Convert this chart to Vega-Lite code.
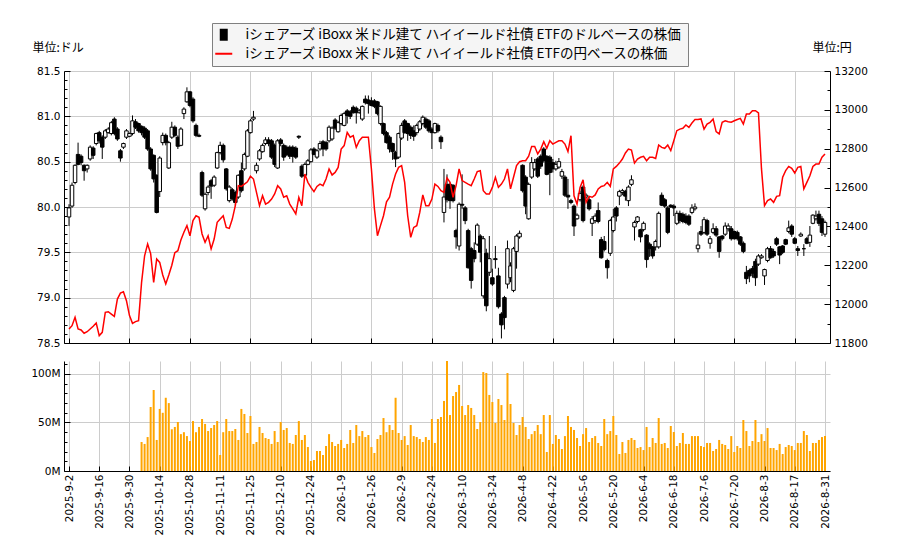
{
  "$schema": "https://vega.github.io/schema/vega-lite/v6.json",
  "background": "white",
  "padding": {"left": 30, "top": 22, "right": 0, "bottom": 0},
  "bounds": "flush",
  "spacing": 18,
  "datasets": {
    "px": [
      {"i":0,"o":79.89,"h":80.03,"l":79.79,"c":79.99,"y":11872},
      {"i":1,"o":80.01,"h":80.27,"l":79.99,"c":80.24,"y":11889},
      {"i":2,"o":80.27,"h":80.47,"l":80.25,"c":80.46,"y":11932},
      {"i":3,"o":80.58,"h":80.71,"l":80.46,"c":80.47,"y":11872},
      {"i":4,"o":80.56,"h":80.58,"l":80.46,"c":80.49,"y":11867},
      {"i":5,"o":80.46,"h":80.47,"l":80.29,"c":80.40,"y":11850},
      {"i":6,"o":80.42,"h":80.47,"l":80.38,"c":80.46,"y":11858},
      {"i":7,"o":80.53,"h":80.68,"l":80.51,"c":80.66,"y":11872},
      {"i":8,"o":80.65,"h":80.67,"l":80.53,"c":80.57,"y":11886},
      {"i":9,"o":80.70,"h":80.82,"l":80.68,"c":80.81,"y":11903},
      {"i":10,"o":80.82,"h":80.84,"l":80.70,"c":80.73,"y":11838},
      {"i":11,"o":80.77,"h":80.79,"l":80.53,"c":80.66,"y":11855},
      {"i":12,"o":80.77,"h":80.86,"l":80.75,"c":80.84,"y":11958},
      {"i":13,"o":80.82,"h":80.88,"l":80.81,"c":80.86,"y":11961},
      {"i":14,"o":80.81,"h":80.95,"l":80.79,"c":80.93,"y":11949},
      {"i":15,"o":80.97,"h":80.99,"l":80.79,"c":80.81,"y":11937},
      {"i":16,"o":80.86,"h":80.88,"l":80.73,"c":80.75,"y":12026},
      {"i":17,"o":80.62,"h":80.64,"l":80.50,"c":80.54,"y":12057},
      {"i":18,"o":80.66,"h":80.71,"l":80.64,"c":80.70,"y":12064},
      {"i":19,"o":80.77,"h":80.86,"l":80.75,"c":80.84,"y":12018},
      {"i":20,"o":80.78,"h":80.82,"l":80.77,"c":80.81,"y":11941},
      {"i":21,"o":80.81,"h":81.01,"l":80.79,"c":80.95,"y":11901},
      {"i":22,"o":80.94,"h":80.97,"l":80.86,"c":80.88,"y":11910},
      {"i":23,"o":80.92,"h":80.93,"l":80.82,"c":80.84,"y":11915},
      {"i":24,"o":80.89,"h":80.90,"l":80.79,"c":80.82,"y":12112,"v":29.9},
      {"i":25,"o":80.87,"h":80.89,"l":80.75,"c":80.77,"y":12249,"v":27.9},
      {"i":26,"o":80.84,"h":80.86,"l":80.62,"c":80.64,"y":12310,"v":35},
      {"i":27,"o":80.64,"h":80.66,"l":80.40,"c":80.42,"y":12260,"v":66},
      {"i":28,"o":80.57,"h":80.58,"l":80.27,"c":80.31,"y":12112,"v":83.5},
      {"i":29,"o":80.35,"h":80.36,"l":79.93,"c":79.94,"y":12232,"v":32},
      {"i":30,"o":80.17,"h":80.56,"l":80.11,"c":80.54,"y":12215,"v":64},
      {"i":31,"o":80.71,"h":80.82,"l":80.68,"c":80.79,"y":12150,"v":60},
      {"i":32,"o":80.79,"h":80.81,"l":80.68,"c":80.71,"y":12104,"v":75.5},
      {"i":33,"o":80.43,"h":80.73,"l":80.42,"c":80.71,"y":12150,"v":70},
      {"i":34,"o":80.77,"h":80.94,"l":80.75,"c":80.88,"y":12200,"v":43},
      {"i":35,"o":80.88,"h":80.90,"l":80.77,"c":80.79,"y":12265,"v":45.4},
      {"i":36,"o":80.77,"h":80.79,"l":80.64,"c":80.67,"y":12275,"v":50.5},
      {"i":37,"o":80.68,"h":80.88,"l":80.67,"c":80.86,"y":12330,"v":38},
      {"i":38,"o":81.03,"h":81.10,"l":80.97,"c":81.08,"y":12370,"v":40},
      {"i":39,"o":81.16,"h":81.32,"l":81.15,"c":81.27,"y":12404,"v":36},
      {"i":40,"o":81.27,"h":81.28,"l":81.10,"c":81.12,"y":12352,"v":30.9},
      {"i":41,"o":81.19,"h":81.21,"l":80.93,"c":80.95,"y":12430,"v":51.5},
      {"i":42,"o":80.90,"h":80.92,"l":80.77,"c":80.79,"y":12455,"v":40},
      {"i":43,"o":80.79,"h":80.81,"l":80.77,"c":80.78,"y":12447,"v":45.4},
      {"i":44,"o":80.38,"h":80.40,"l":80.11,"c":80.13,"y":12361,"v":53.6},
      {"i":45,"o":79.98,"h":80.16,"l":79.96,"c":80.14,"y":12318,"v":48.5},
      {"i":46,"o":80.16,"h":80.24,"l":80.13,"c":80.22,"y":12352,"v":41.2},
      {"i":47,"o":80.29,"h":80.31,"l":80.09,"c":80.23,"y":12284,"v":44.3},
      {"i":48,"o":80.24,"h":80.35,"l":80.22,"c":80.33,"y":12335,"v":47.4},
      {"i":49,"o":80.43,"h":80.61,"l":80.42,"c":80.60,"y":12421,"v":51.5},
      {"i":50,"o":80.60,"h":80.72,"l":80.58,"c":80.68,"y":12438,"v":16.5},
      {"i":51,"o":80.68,"h":80.70,"l":80.49,"c":80.52,"y":12455,"v":40},
      {"i":52,"o":80.42,"h":80.43,"l":80.18,"c":80.20,"y":12395,"v":53.6},
      {"i":53,"o":80.07,"h":80.24,"l":80.05,"c":80.22,"y":12390,"v":41.2},
      {"i":54,"o":80.19,"h":80.21,"l":80.07,"c":80.09,"y":12438,"v":41.2},
      {"i":55,"o":80.16,"h":80.18,"l":80.01,"c":80.05,"y":12507,"v":43.3},
      {"i":56,"o":80.11,"h":80.36,"l":80.09,"c":80.35,"y":12610,"v":32},
      {"i":57,"o":80.40,"h":80.49,"l":80.16,"c":80.18,"y":12606,"v":64},
      {"i":58,"o":80.42,"h":80.60,"l":80.40,"c":80.58,"y":12618,"v":58.8},
      {"i":59,"o":80.56,"h":80.86,"l":80.55,"c":80.84,"y":12630,"v":39.2},
      {"i":60,"o":80.82,"h":80.97,"l":80.81,"c":80.95,"y":12658,"v":56.7},
      {"i":61,"o":80.97,"h":81.06,"l":80.95,"c":80.99,"y":12644,"v":27.9},
      {"i":62,"o":80.40,"h":80.49,"l":80.37,"c":80.46,"y":12575,"v":29.9},
      {"i":63,"o":80.53,"h":80.64,"l":80.51,"c":80.62,"y":12507,"v":45.4},
      {"i":64,"o":80.61,"h":80.70,"l":80.60,"c":80.68,"y":12558,"v":39.2},
      {"i":65,"o":80.70,"h":80.77,"l":80.68,"c":80.74,"y":12515,"v":34},
      {"i":66,"o":80.74,"h":80.77,"l":80.67,"c":80.70,"y":12524,"v":33},
      {"i":67,"o":80.73,"h":80.75,"l":80.53,"c":80.55,"y":12541,"v":27.9},
      {"i":68,"o":80.68,"h":80.70,"l":80.44,"c":80.47,"y":12567,"v":41.2},
      {"i":69,"o":80.43,"h":80.75,"l":80.42,"c":80.73,"y":12610,"v":29.9},
      {"i":70,"o":80.74,"h":80.76,"l":80.67,"c":80.70,"y":12593,"v":50.5},
      {"i":71,"o":80.68,"h":80.70,"l":80.51,"c":80.55,"y":12550,"v":42.3},
      {"i":72,"o":80.66,"h":80.68,"l":80.56,"c":80.58,"y":12558,"v":44.3},
      {"i":73,"o":80.66,"h":80.68,"l":80.53,"c":80.56,"y":12515,"v":28.9},
      {"i":74,"o":80.66,"h":80.68,"l":80.49,"c":80.56,"y":12490,"v":27.9},
      {"i":75,"o":80.65,"h":80.67,"l":80.53,"c":80.55,"y":12464,"v":37.1},
      {"i":76,"o":80.78,"h":80.79,"l":80.75,"c":80.77,"y":12550,"v":51.5},
      {"i":77,"o":80.45,"h":80.47,"l":80.32,"c":80.34,"y":12507,"v":32},
      {"i":78,"o":80.35,"h":80.49,"l":80.34,"c":80.47,"y":12670,"v":37.1},
      {"i":79,"o":80.47,"h":80.53,"l":80.46,"c":80.51,"y":12627,"v":24.7},
      {"i":80,"o":80.50,"h":80.65,"l":80.49,"c":80.63,"y":12601,"v":10.3},
      {"i":81,"o":80.64,"h":80.66,"l":80.57,"c":80.58,"y":12579,"v":11.3},
      {"i":82,"o":80.55,"h":80.64,"l":80.53,"c":80.62,"y":12606,"v":20.6},
      {"i":83,"o":80.64,"h":80.73,"l":80.62,"c":80.70,"y":12618,"v":20.6},
      {"i":84,"o":80.72,"h":80.74,"l":80.56,"c":80.64,"y":12610,"v":16.5},
      {"i":85,"o":80.71,"h":80.73,"l":80.62,"c":80.64,"y":12644,"v":25.8},
      {"i":86,"o":80.73,"h":80.90,"l":80.71,"c":80.88,"y":12696,"v":38},
      {"i":87,"o":80.75,"h":80.89,"l":80.73,"c":80.87,"y":12665,"v":29.9},
      {"i":88,"o":80.96,"h":80.98,"l":80.85,"c":80.87,"y":12678,"v":25.8},
      {"i":89,"o":80.83,"h":80.95,"l":80.82,"c":80.93,"y":12704,"v":27.9},
      {"i":90,"o":80.92,"h":81.03,"l":80.90,"c":81.01,"y":12798,"v":32},
      {"i":91,"o":80.90,"h":81.05,"l":80.89,"c":81.03,"y":12816,"v":23.7},
      {"i":92,"o":81.06,"h":81.08,"l":80.92,"c":81.01,"y":12884,"v":27.9},
      {"i":93,"o":81.05,"h":81.07,"l":80.97,"c":81.00,"y":12859,"v":42.3},
      {"i":94,"o":81.10,"h":81.12,"l":81.03,"c":81.04,"y":12867,"v":28.9},
      {"i":95,"o":81.09,"h":81.11,"l":80.92,"c":81.04,"y":12807,"v":47.4},
      {"i":96,"o":81.04,"h":81.08,"l":81.03,"c":81.06,"y":12841,"v":36},
      {"i":97,"o":80.97,"h":81.12,"l":80.95,"c":81.11,"y":12859,"v":41.2},
      {"i":98,"o":81.19,"h":81.23,"l":81.13,"c":81.15,"y":12859,"v":35},
      {"i":99,"o":81.18,"h":81.23,"l":81.03,"c":81.14,"y":12859,"v":37.1},
      {"i":100,"o":81.17,"h":81.21,"l":81.11,"c":81.12,"y":12696,"v":24.7},
      {"i":101,"o":81.17,"h":81.19,"l":81.09,"c":81.11,"y":12490,"v":18.6},
      {"i":102,"o":81.16,"h":81.17,"l":81.01,"c":81.03,"y":12352,"v":33},
      {"i":103,"o":80.92,"h":81.12,"l":80.90,"c":81.11,"y":12404,"v":37.1},
      {"i":104,"o":80.92,"h":80.93,"l":80.79,"c":80.81,"y":12455,"v":54.6},
      {"i":105,"o":80.82,"h":80.84,"l":80.70,"c":80.71,"y":12527,"v":40},
      {"i":106,"o":80.77,"h":80.79,"l":80.60,"c":80.64,"y":12550,"v":47.4},
      {"i":107,"o":80.70,"h":80.71,"l":80.52,"c":80.61,"y":12618,"v":42.3},
      {"i":108,"o":80.60,"h":80.62,"l":80.44,"c":80.53,"y":12670,"v":75.5},
      {"i":109,"o":80.55,"h":80.82,"l":80.53,"c":80.81,"y":12704,"v":39.2},
      {"i":110,"o":80.76,"h":80.93,"l":80.74,"c":80.90,"y":12713,"v":32},
      {"i":111,"o":80.95,"h":80.97,"l":80.81,"c":80.82,"y":12627,"v":36},
      {"i":112,"o":80.92,"h":80.93,"l":80.73,"c":80.81,"y":12455,"v":26.8},
      {"i":113,"o":80.88,"h":80.90,"l":80.75,"c":80.79,"y":12344,"v":47.4},
      {"i":114,"o":80.84,"h":80.90,"l":80.73,"c":80.78,"y":12395,"v":36},
      {"i":115,"o":80.82,"h":80.92,"l":80.79,"c":80.90,"y":12404,"v":35},
      {"i":116,"o":80.86,"h":80.96,"l":80.84,"c":80.94,"y":12473,"v":33},
      {"i":117,"o":80.92,"h":81.01,"l":80.90,"c":80.99,"y":12562,"v":29.9},
      {"i":118,"o":80.97,"h":80.99,"l":80.86,"c":80.88,"y":12507,"v":35},
      {"i":119,"o":80.95,"h":80.97,"l":80.82,"c":80.84,"y":12507,"v":32},
      {"i":120,"o":80.86,"h":80.88,"l":80.64,"c":80.82,"y":12541,"v":53.6},
      {"i":121,"o":80.82,"h":80.93,"l":80.81,"c":80.92,"y":12618,"v":28.9},
      {"i":122,"o":80.90,"h":80.92,"l":80.82,"c":80.84,"y":12606,"v":53.6},
      {"i":123,"o":80.77,"h":80.79,"l":80.64,"c":80.72,"y":12584,"v":55.7},
      {"i":124,"o":79.94,"h":80.42,"l":79.83,"c":80.11,"y":12575,"v":72.2},
      {"i":125,"o":80.25,"h":80.36,"l":80.05,"c":80.08,"y":12650,"v":113.4},
      {"i":126,"o":80.25,"h":80.27,"l":79.98,"c":80.07,"y":12627,"v":57.7},
      {"i":127,"o":80.24,"h":80.25,"l":80.05,"c":80.07,"y":12550,"v":77.3},
      {"i":128,"o":79.74,"h":79.76,"l":79.54,"c":79.67,"y":12610,"v":81.4},
      {"i":129,"o":79.57,"h":80.05,"l":79.52,"c":80.03,"y":12696,"v":88.7},
      {"i":130,"o":80.03,"h":80.36,"l":79.98,"c":80.02,"y":12636,"v":67},
      {"i":131,"o":79.99,"h":80.01,"l":79.81,"c":79.85,"y":12627,"v":57.7},
      {"i":132,"o":79.74,"h":79.76,"l":79.32,"c":79.33,"y":12618,"v":68},
      {"i":133,"o":79.54,"h":79.56,"l":79.10,"c":79.19,"y":12610,"v":65},
      {"i":134,"o":79.52,"h":79.61,"l":79.39,"c":79.43,"y":12644,"v":57.7},
      {"i":135,"o":79.59,"h":79.82,"l":79.57,"c":79.80,"y":12682,"v":43.3},
      {"i":136,"o":79.68,"h":79.70,"l":79.39,"c":79.50,"y":12687,"v":50.5},
      {"i":137,"o":79.02,"h":79.68,"l":78.99,"c":79.65,"y":12584,"v":102},
      {"i":138,"o":79.49,"h":79.54,"l":78.85,"c":78.91,"y":12567,"v":101},
      {"i":139,"o":79.28,"h":79.68,"l":79.24,"c":79.43,"y":12567,"v":78.4},
      {"i":140,"o":79.22,"h":79.32,"l":79.13,"c":79.15,"y":12601,"v":71.1},
      {"i":141,"o":79.43,"h":79.57,"l":79.32,"c":79.42,"y":12653,"v":49.5},
      {"i":142,"o":79.24,"h":79.33,"l":78.88,"c":78.90,"y":12601,"v":74.2},
      {"i":143,"o":78.82,"h":78.84,"l":78.55,"c":78.70,"y":12618,"v":68},
      {"i":144,"o":79.00,"h":79.02,"l":78.65,"c":78.78,"y":12644,"v":52.6},
      {"i":145,"o":79.15,"h":79.63,"l":79.10,"c":79.54,"y":12696,"v":101},
      {"i":146,"o":79.22,"h":79.39,"l":79.17,"c":79.35,"y":12593,"v":69.1},
      {"i":147,"o":79.08,"h":79.56,"l":79.06,"c":79.54,"y":12653,"v":49.5},
      {"i":148,"o":79.51,"h":79.70,"l":79.32,"c":79.68,"y":12713,"v":37.1},
      {"i":149,"o":79.67,"h":79.74,"l":79.65,"c":79.71,"y":12733,"v":47.4},
      {"i":150,"o":80.46,"h":80.47,"l":80.16,"c":80.18,"y":12738,"v":55.7},
      {"i":151,"o":80.33,"h":80.35,"l":79.92,"c":80.01,"y":12738,"v":45.4},
      {"i":152,"o":79.87,"h":80.27,"l":79.86,"c":80.25,"y":12761,"v":33},
      {"i":153,"o":80.33,"h":80.55,"l":80.31,"c":80.49,"y":12812,"v":38},
      {"i":154,"o":80.42,"h":80.53,"l":80.40,"c":80.49,"y":12812,"v":41.2},
      {"i":155,"o":80.53,"h":80.55,"l":80.32,"c":80.34,"y":12773,"v":47.4},
      {"i":156,"o":80.56,"h":80.58,"l":80.42,"c":80.45,"y":12798,"v":38},
      {"i":157,"o":80.64,"h":80.66,"l":80.49,"c":80.51,"y":12836,"v":57.7},
      {"i":158,"o":80.56,"h":80.57,"l":80.35,"c":80.36,"y":12802,"v":19.6},
      {"i":159,"o":80.55,"h":80.57,"l":80.13,"c":80.38,"y":12841,"v":57.7},
      {"i":160,"o":80.49,"h":80.53,"l":80.38,"c":80.42,"y":12824,"v":27.9},
      {"i":161,"o":80.42,"h":80.51,"l":80.40,"c":80.47,"y":12833,"v":37.1},
      {"i":162,"o":80.44,"h":80.54,"l":80.42,"c":80.50,"y":12841,"v":33},
      {"i":163,"o":80.34,"h":80.42,"l":80.31,"c":80.39,"y":12841,"v":22.7},
      {"i":164,"o":80.33,"h":80.35,"l":80.11,"c":80.13,"y":12824,"v":36},
      {"i":165,"o":80.13,"h":80.31,"l":79.98,"c":80.11,"y":12785,"v":56.7},
      {"i":166,"o":80.07,"h":80.09,"l":80.03,"c":80.05,"y":12867,"v":45.4},
      {"i":167,"o":80.01,"h":80.03,"l":79.68,"c":79.79,"y":12558,"v":42.3},
      {"i":168,"o":79.87,"h":79.93,"l":79.86,"c":79.91,"y":12515,"v":34},
      {"i":169,"o":80.08,"h":80.18,"l":80.06,"c":80.15,"y":12600,"v":25.8},
      {"i":170,"o":80.22,"h":80.24,"l":79.83,"c":79.85,"y":12640,"v":38},
      {"i":171,"o":80.11,"h":80.15,"l":80.09,"c":80.13,"y":12524,"v":44.3},
      {"i":172,"o":80.08,"h":80.11,"l":79.96,"c":79.98,"y":12555,"v":29.9},
      {"i":173,"o":79.82,"h":79.90,"l":79.68,"c":79.87,"y":12550,"v":34},
      {"i":174,"o":79.85,"h":79.93,"l":79.82,"c":79.90,"y":12562,"v":36},
      {"i":175,"o":79.96,"h":80.05,"l":79.82,"c":79.84,"y":12593,"v":28.9},
      {"i":176,"o":79.64,"h":79.67,"l":79.43,"c":79.44,"y":12606,"v":25.8},
      {"i":177,"o":79.62,"h":79.68,"l":79.51,"c":79.53,"y":12610,"v":53.6},
      {"i":178,"o":79.41,"h":79.43,"l":79.21,"c":79.33,"y":12627,"v":38},
      {"i":179,"o":79.49,"h":79.87,"l":79.46,"c":79.85,"y":12606,"v":41.2},
      {"i":180,"o":79.74,"h":79.98,"l":79.72,"c":79.89,"y":12696,"v":56.7},
      {"i":181,"o":79.99,"h":80.01,"l":79.84,"c":79.90,"y":12709,"v":37.1},
      {"i":182,"o":80.12,"h":80.19,"l":80.02,"c":80.17,"y":12726,"v":17.5},
      {"i":183,"o":80.16,"h":80.20,"l":80.13,"c":80.18,"y":12747,"v":29.9},
      {"i":184,"o":80.17,"h":80.19,"l":80.07,"c":80.12,"y":12778,"v":18.6},
      {"i":185,"o":80.07,"h":80.24,"l":80.01,"c":80.22,"y":12798,"v":32},
      {"i":186,"o":80.25,"h":80.35,"l":80.23,"c":80.30,"y":12793,"v":34},
      {"i":187,"o":79.78,"h":79.85,"l":79.63,"c":79.83,"y":12726,"v":32},
      {"i":188,"o":79.84,"h":79.90,"l":79.82,"c":79.89,"y":12747,"v":23.7},
      {"i":189,"o":79.75,"h":79.76,"l":79.61,"c":79.67,"y":12756,"v":24.7},
      {"i":190,"o":79.75,"h":79.84,"l":79.73,"c":79.82,"y":12761,"v":21.6},
      {"i":191,"o":79.69,"h":79.70,"l":79.33,"c":79.42,"y":12738,"v":45.4},
      {"i":192,"o":79.59,"h":79.61,"l":79.45,"c":79.54,"y":12756,"v":24.7},
      {"i":193,"o":79.56,"h":79.57,"l":79.43,"c":79.46,"y":12756,"v":34},
      {"i":194,"o":79.56,"h":79.64,"l":79.52,"c":79.62,"y":12750,"v":28.9},
      {"i":195,"o":79.56,"h":79.95,"l":79.54,"c":79.93,"y":12819,"v":54.6},
      {"i":196,"o":80.13,"h":80.16,"l":80.01,"c":80.02,"y":12807,"v":27.9},
      {"i":197,"o":80.08,"h":80.10,"l":79.99,"c":80.01,"y":12802,"v":28.9},
      {"i":198,"o":79.99,"h":80.01,"l":79.70,"c":79.72,"y":12819,"v":23.7},
      {"i":199,"o":80.02,"h":80.03,"l":79.99,"c":80.00,"y":12790,"v":46.4},
      {"i":200,"o":80.01,"h":80.03,"l":79.90,"c":79.99,"y":12841,"v":40.2},
      {"i":201,"o":79.82,"h":79.96,"l":79.80,"c":79.93,"y":12893,"v":25.8},
      {"i":202,"o":79.93,"h":79.96,"l":79.82,"c":79.85,"y":12901,"v":28.9},
      {"i":203,"o":79.92,"h":79.94,"l":79.82,"c":79.84,"y":12905,"v":39.2},
      {"i":204,"o":79.90,"h":79.93,"l":79.81,"c":79.83,"y":12922,"v":27.9},
      {"i":205,"o":79.90,"h":79.92,"l":79.79,"c":79.81,"y":12910,"v":27.9},
      {"i":206,"o":79.94,"h":80.03,"l":79.92,"c":79.99,"y":12932,"v":36},
      {"i":207,"o":79.98,"h":80.04,"l":79.96,"c":80.00,"y":12950,"v":36},
      {"i":208,"o":79.54,"h":79.72,"l":79.50,"c":79.58,"y":12950,"v":36},
      {"i":209,"o":79.73,"h":79.79,"l":79.68,"c":79.70,"y":12953,"v":25.8},
      {"i":210,"o":79.72,"h":79.89,"l":79.70,"c":79.86,"y":12901,"v":24.7},
      {"i":211,"o":79.85,"h":79.87,"l":79.68,"c":79.70,"y":12927,"v":28.9},
      {"i":212,"o":79.60,"h":79.68,"l":79.54,"c":79.65,"y":12936,"v":28.9},
      {"i":213,"o":79.72,"h":79.82,"l":79.70,"c":79.76,"y":12953,"v":20.6},
      {"i":214,"o":79.76,"h":79.79,"l":79.67,"c":79.69,"y":12888,"v":22.7},
      {"i":215,"o":79.67,"h":79.68,"l":79.44,"c":79.51,"y":12876,"v":32},
      {"i":216,"o":79.68,"h":79.69,"l":79.63,"c":79.65,"y":12936,"v":27.9},
      {"i":217,"o":79.70,"h":79.83,"l":79.68,"c":79.79,"y":12944,"v":26.8},
      {"i":218,"o":79.76,"h":79.82,"l":79.73,"c":79.79,"y":12939,"v":22.7},
      {"i":219,"o":79.76,"h":79.79,"l":79.63,"c":79.65,"y":12936,"v":36},
      {"i":220,"o":79.73,"h":79.74,"l":79.64,"c":79.65,"y":12944,"v":19.6},
      {"i":221,"o":79.72,"h":79.74,"l":79.63,"c":79.65,"y":12950,"v":25.8},
      {"i":222,"o":79.67,"h":79.68,"l":79.57,"c":79.59,"y":12956,"v":23.7},
      {"i":223,"o":79.60,"h":79.62,"l":79.49,"c":79.51,"y":12927,"v":52.6},
      {"i":224,"o":79.28,"h":79.35,"l":79.15,"c":79.21,"y":12979,"v":41.2},
      {"i":225,"o":79.30,"h":79.32,"l":79.17,"c":79.24,"y":12979,"v":25.8},
      {"i":226,"o":79.32,"h":79.35,"l":79.22,"c":79.27,"y":12996,"v":30.9},
      {"i":227,"o":79.40,"h":79.43,"l":79.13,"c":79.22,"y":12996,"v":52.6},
      {"i":228,"o":79.37,"h":79.48,"l":79.35,"c":79.46,"y":12984,"v":29.9},
      {"i":229,"o":79.44,"h":79.48,"l":79.43,"c":79.46,"y":12696,"v":38},
      {"i":230,"o":79.24,"h":79.32,"l":79.14,"c":79.31,"y":12507,"v":30.9},
      {"i":231,"o":79.41,"h":79.56,"l":79.39,"c":79.54,"y":12533,"v":44.3},
      {"i":232,"o":79.54,"h":79.57,"l":79.43,"c":79.44,"y":12541,"v":23.7},
      {"i":233,"o":79.51,"h":79.54,"l":79.44,"c":79.46,"y":12524,"v":23.7},
      {"i":234,"o":79.65,"h":79.67,"l":79.57,"c":79.59,"y":12555,"v":21.6},
      {"i":235,"o":79.56,"h":79.57,"l":79.37,"c":79.47,"y":12558,"v":27.9},
      {"i":236,"o":79.57,"h":79.58,"l":79.48,"c":79.50,"y":12653,"v":17.5},
      {"i":237,"o":79.64,"h":79.65,"l":79.58,"c":79.59,"y":12687,"v":24.7},
      {"i":238,"o":79.73,"h":79.85,"l":79.71,"c":79.77,"y":12709,"v":26.8},
      {"i":239,"o":79.79,"h":79.81,"l":79.67,"c":79.70,"y":12699,"v":25.8},
      {"i":240,"o":79.65,"h":79.67,"l":79.59,"c":79.60,"y":12675,"v":21.6},
      {"i":241,"o":79.54,"h":79.57,"l":79.46,"c":79.52,"y":12704,"v":28.9},
      {"i":242,"o":79.68,"h":79.72,"l":79.67,"c":79.70,"y":12709,"v":28.9},
      {"i":243,"o":79.54,"h":79.59,"l":79.46,"c":79.54,"y":12593,"v":41.2},
      {"i":244,"o":79.65,"h":79.67,"l":79.59,"c":79.60,"y":12627,"v":37.1},
      {"i":245,"o":79.61,"h":79.79,"l":79.56,"c":79.69,"y":12661,"v":20.6},
      {"i":246,"o":79.82,"h":79.92,"l":79.81,"c":79.91,"y":12709,"v":28.9},
      {"i":247,"o":79.87,"h":79.96,"l":79.85,"c":79.90,"y":12721,"v":28.9},
      {"i":248,"o":79.92,"h":79.96,"l":79.79,"c":79.82,"y":12721,"v":32},
      {"i":249,"o":79.87,"h":79.90,"l":79.68,"c":79.72,"y":12756,"v":35},
      {"i":250,"o":79.70,"h":79.85,"l":79.67,"c":79.83,"y":12773,"v":36}
    ]
  },
  "vconcat": [
    {
      "width": 766,
      "height": 272,
      "data": {"name": "px"},
      "layer": [
        {
          "mark": {"type": "rule", "color": "black", "strokeWidth": 1},
          "encoding": {
            "x": {
              "field": "i", "type": "quantitative",
              "scale": {"domain": [0, 250], "nice": false, "zero": false},
              "axis": {"values": [0,10,20,30,40,50,60,70,80,90,100,110,120,130,140,150,160,170,180,190,200,210,220,230,240,250], "labels": false, "tickSize": -5, "grid": true, "title": null}
            },
            "y": {
              "field": "l", "type": "quantitative",
              "scale": {"domain": [78.5, 81.5], "nice": false, "zero": false},
              "axis": {
                "orient": "left",
                "values": [78.5,78.6,78.7,78.8,78.9,79.0,79.1,79.2,79.3,79.4,79.5,79.6,79.7,79.8,79.9,80.0,80.1,80.2,80.3,80.4,80.5,80.6,80.7,80.8,80.9,81.0,81.1,81.2,81.3,81.4,81.5],
                "labelExpr": "round(datum.value * 10) % 5 == 0 ? format(datum.value, '.1f') : ''",
                "labelOverlap": false,
                "tickSize": {"condition": {"test": "round(datum.value * 10) % 5 == 0", "value": -6}, "value": -3},
                "grid": true,
                "gridOpacity": {"condition": {"test": "round(datum.value * 10) % 5 == 0", "value": 1}, "value": 0},
                "labelPadding": 10,
                "title": "単位:ドル", "titleAngle": 0, "titleAlign": "left", "titleBaseline": "middle", "titleX": -32, "titleY": -24
              }
            },
            "y2": {"field": "h"}
          }
        },
        {
          "mark": {"type": "bar", "size": 3.5, "stroke": "black", "strokeWidth": 1},
          "encoding": {
            "x": {"field": "i", "type": "quantitative", "scale": {"domain": [0, 250], "nice": false, "zero": false}},
            "y": {"field": "o", "type": "quantitative", "scale": {"domain": [78.5, 81.5], "nice": false, "zero": false}, "axis": null},
            "y2": {"field": "c"},
            "fill": {"condition": {"test": "datum.c >= datum.o", "value": "white"}, "value": "black"}
          }
        },
        {
          "mark": {"type": "line", "color": "#ff0000", "strokeWidth": 1.5},
          "encoding": {
            "x": {"field": "i", "type": "quantitative", "scale": {"domain": [0, 250], "nice": false, "zero": false}},
            "y": {
              "field": "y", "type": "quantitative",
              "scale": {"domain": [11800, 13200], "nice": false, "zero": false},
              "axis": {
                "orient": "right",
                "values": [11800,11900,12000,12100,12200,12300,12400,12500,12600,12700,12800,12900,13000,13100,13200],
                "labelExpr": "datum.value % 200 == 0 ? '' + datum.value : ''",
                "labelOverlap": false,
                "tickSize": {"condition": {"test": "datum.value % 200 == 0", "value": -6}, "value": -3},
                "grid": false,
                "labelPadding": 10,
                "title": "単位:円", "titleAngle": 0, "titleAlign": "left", "titleBaseline": "middle", "titleX": -18, "titleY": -24
              }
            }
          }
        },
        {
          "data": {"values": [
            {"s": "iシェアーズ iBoxx 米ドル建て ハイイールド社債 ETFのドルベースの株価"},
            {"s": "iシェアーズ iBoxx 米ドル建て ハイイールド社債 ETFの円ベースの株価"}
          ]},
          "mark": {"type": "point", "filled": true, "opacity": 0},
          "encoding": {
            "shape": {
              "field": "s", "type": "nominal",
              "scale": {
                "domain": ["iシェアーズ iBoxx 米ドル建て ハイイールド社債 ETFのドルベースの株価", "iシェアーズ iBoxx 米ドル建て ハイイールド社債 ETFの円ベースの株価"],
                "range": ["M-0.8,-1.2H0.8V1.2H-0.8Z", "M-1.7,-0.2H1.7V0.2H-1.7Z"]
              },
              "legend": {"title": null, "orient": "none", "legendX": 148, "legendY": -48, "fillColor": "#f5f5f5", "strokeColor": "#808080", "padding": 5, "labelFont": "Noto Sans CJK JP", "labelFontSize": 13.5, "labelColor": "black", "labelLimit": 1000, "labelOffset": 15, "rowPadding": 2, "symbolSize": 100, "symbolOpacity": 1}
            },
            "color": {
              "field": "s", "type": "nominal",
              "scale": {
                "domain": ["iシェアーズ iBoxx 米ドル建て ハイイールド社債 ETFのドルベースの株価", "iシェアーズ iBoxx 米ドル建て ハイイールド社債 ETFの円ベースの株価"],
                "range": ["black", "#ff0000"]
              },
              "legend": {"title": null, "orient": "none", "legendX": 148, "legendY": -48, "fillColor": "#f5f5f5", "strokeColor": "#808080", "padding": 5, "labelFont": "Noto Sans CJK JP", "labelFontSize": 13.5, "labelColor": "black", "labelLimit": 1000, "labelOffset": 15, "rowPadding": 2, "symbolSize": 100, "symbolOpacity": 1}
            }
          }
        }
      ],
      "resolve": {"scale": {"y": "independent"}}
    },
    {
      "width": 766,
      "height": 110,
      "data": {"name": "px"},
      "mark": {"type": "bar", "color": "#ffa500", "size": 2},
      "encoding": {
        "x": {
          "field": "i", "type": "quantitative",
          "scale": {"domain": [0, 250], "nice": false, "zero": false},
          "axis": {
            "values": [0,10,20,30,40,50,60,70,80,90,100,110,120,130,140,150,160,170,180,190,200,210,220,230,240,250],
            "labelExpr": "['2025-9-2','2025-9-16','2025-9-30','2025-10-14','2025-10-28','2025-11-11','2025-11-25','2025-12-10','2025-12-24','2026-1-9','2026-1-26','2026-2-9','2026-2-24','2026-3-10','2026-3-24','2026-4-8','2026-4-22','2026-5-6','2026-5-20','2026-6-4','2026-6-18','2026-7-6','2026-7-20','2026-8-3','2026-8-17','2026-8-31'][round(datum.value / 10)]",
            "labelAngle": -90,
            "labelOverlap": false,
            "labelPadding": 8,
            "tickSize": -5,
            "grid": true,
            "title": null
          }
        },
        "y": {
          "field": "v", "type": "quantitative", "stack": null,
          "scale": {"domain": [0, 113.4], "nice": false},
          "axis": {
            "values": [0,10,20,30,40,50,60,70,80,90,100,110],
            "labelExpr": "datum.value % 50 == 0 ? datum.value + 'M' : ''",
            "labelOverlap": false,
            "tickSize": {"condition": {"test": "datum.value % 50 == 0", "value": -6}, "value": -3},
            "grid": true,
            "gridOpacity": {"condition": {"test": "datum.value % 50 == 0", "value": 1}, "value": 0},
            "labelPadding": 10,
            "title": null
          }
        }
      }
    }
  ],
  "config": {
    "view": {"stroke": null},
    "axis": {
      "labelFont": "DejaVu Sans",
      "labelFontSize": 10.5,
      "labelColor": "black",
      "domainColor": "black",
      "tickColor": "black",
      "gridColor": "#cccccc",
      "titleFont": "Noto Sans CJK JP",
      "titleFontSize": 12,
      "titleFontWeight": "normal",
      "titleColor": "black"
    }
  }
}
